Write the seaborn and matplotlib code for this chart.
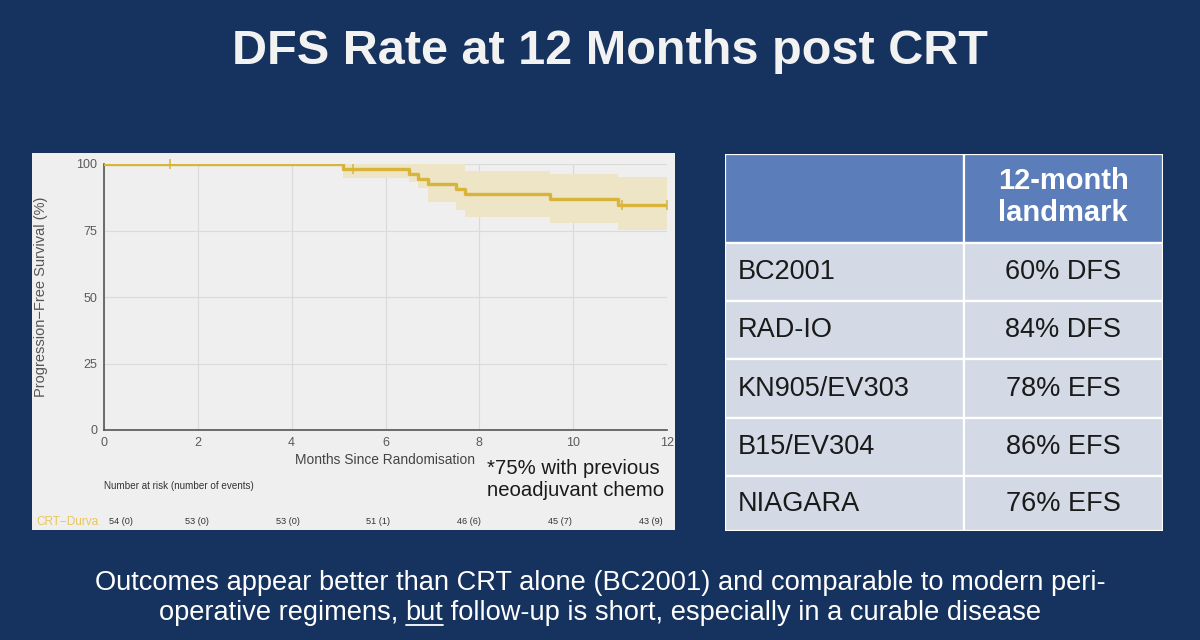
import matplotlib
matplotlib.use("Agg")
import matplotlib.pyplot as plt
import seaborn as sns
import numpy as np
import pandas as pd
from matplotlib.patches import Rectangle
from matplotlib.lines import Line2D

# ---------------- data ----------------
step_times = [0, 5.1, 6.5, 6.7, 6.9, 7.5, 7.7, 9.5, 10.95, 12]
survival   = [100, 98.1, 96.2, 94.3, 92.4, 90.5, 88.6, 86.7, 84.7, 84.7]
ci_lower   = [100, 94.7, 93.3, 91.0, 85.8, 82.7, 80.2, 78.0, 75.2, 75.2]
ci_upper   = [100, 100, 100, 100, 100, 100, 97.5, 96.2, 95.0, 95.0]
censor_times = [1.4, 5.3, 11.05, 12]
risk_times  = [0, 2, 4, 6, 8, 10, 12]
risk_labels = ["54 (0)", "53 (0)", "53 (0)", "51 (1)", "46 (6)", "45 (7)", "43 (9)"]
x_ticks = [0, 2, 4, 6, 8, 10, 12]
y_ticks = [0, 25, 50, 75, 100]

table_studies = ["BC2001", "RAD-IO", "KN905/EV303", "B15/EV304", "NIAGARA"]
table_values  = ["60% DFS", "84% DFS", "78% EFS", "86% EFS", "76% EFS"]
table_header  = "12-month\nlandmark"

title_text = "DFS Rate at 12 Months post CRT"
footer_line1 = "Outcomes appear better than CRT alone (BC2001) and comparable to modern peri-"
footer_line2 = ["operative regimens, ", "but", " follow-up is short, especially in a curable disease"]

# ---------------- style ----------------
sns.set_style("white")
plt.rcParams['font.family'] = ['Liberation Sans', 'DejaVu Sans']

NAVY = "#16335F"
GOLD = "#D8B43A"
BAND = "#EEE4C6"
PANEL = "#EFEFEF"

W, H = 1200, 640
fig = plt.figure(figsize=(12, 6.4), dpi=100, facecolor=NAVY)

def fx(px):
    return px / W

def fy(py):
    return 1 - py / H

# title
fig.text(fx(610), fy(52), title_text, color="#F2F2F2", fontsize=35, fontweight="bold",
         ha="center", va="center")

# chart panel background
fig.patches.append(Rectangle((fx(32), fy(530)), fx(675) - fx(32), fy(153) - fy(530),
                             transform=fig.transFigure, facecolor=PANEL, edgecolor="none", zorder=-1))

# ---------------- KM axes ----------------
ax = fig.add_axes([fx(104), fy(430), fx(667) - fx(104), fy(164) - fy(430)])
ax.set_facecolor(PANEL)

df = pd.DataFrame({"t": step_times, "s": survival, "lo": ci_lower, "hi": ci_upper})
ax.fill_between(df["t"], df["lo"], df["hi"], step="post", color=BAND, linewidth=0, zorder=1)
sns.lineplot(data=df, x="t", y="s", drawstyle="steps-post", color=GOLD, linewidth=2.4,
             estimator=None, sort=False, ax=ax, zorder=3)

cens_surv = [survival[np.searchsorted(step_times, c, side="right") - 1] for c in censor_times]
sns.scatterplot(x=censor_times, y=cens_surv, marker="|", s=60, color=GOLD, linewidth=1.1,
                ax=ax, zorder=4, clip_on=False)

ax.set_xlim(0, 12)
ax.set_ylim(0, 100)
ax.set_xticks(x_ticks)
ax.set_yticks(y_ticks)
ax.grid(True, color="#DADADA", linewidth=0.8)
for s in ["top", "right"]:
    ax.spines[s].set_visible(False)
for s in ["left", "bottom"]:
    ax.spines[s].set_color("#555555")
    ax.spines[s].set_linewidth(1.2)
ax.tick_params(axis="both", direction="out", length=4, width=1, color="#555555",
               labelcolor="#5A5A5A", labelsize=9, pad=1)
ax.set_xlabel("")
ax.set_ylabel("Progression\u2212Free Survival (%)", color="#555555", fontsize=10.5)
ax.yaxis.set_label_coords(-0.1, 0.5)

fig.text(fx(385), fy(460), "Months Since Randomisation", color="#444444", fontsize=9.9,
         ha="center", va="center")
fig.text(fx(487), fy(480), "*75% with previous\nneoadjuvant chemo", color="#1A1A1A",
         fontsize=14.6, ha="left", va="center", linespacing=1.2)
fig.text(fx(104), fy(486), "Number at risk (number of events)", color="#333333", fontsize=7.1,
         ha="left", va="center")
fig.text(fx(36), fy(522), "CRT\u2212Durva", color="#E6C65E", fontsize=8.5, ha="left", va="center")
for t, lab in zip(risk_times, risk_labels):
    xpix = max(109, 94 + t * 45.4)
    fig.text(fx(xpix), fy(522), lab, color="#333333", fontsize=6.6, ha="left", va="center")

# ---------------- table ----------------
tax = fig.add_axes([fx(725), fy(531), fx(1163) - fx(725), fy(154) - fy(531)])
tax.set_xlim(725, 1163)
tax.set_ylim(531, 154)
tax.axis("off")
row_edges = [154, 243, 301, 359, 418, 476, 531]
col_edges = [725, 964, 1163]
HEAD = "#5B7DBA"
BODY = "#D3DAE5"
for r in range(len(row_edges) - 1):
    for c in range(2):
        color = HEAD if r == 0 else BODY
        tax.add_patch(Rectangle((col_edges[c], row_edges[r]), col_edges[c + 1] - col_edges[c],
                                row_edges[r + 1] - row_edges[r], facecolor=color,
                                edgecolor="white", linewidth=1.6))
tax.text(1063, 197, table_header, color="white", fontsize=21, fontweight="bold",
         ha="center", va="center", linespacing=1.15)
for i, (st, val) in enumerate(zip(table_studies, table_values)):
    yc = (row_edges[i + 1] + row_edges[i + 2]) / 2
    tax.text(738, yc, st, color="#1A1A1A", fontsize=19.5, ha="left", va="center")
    tax.text(1063, yc, val, color="#1A1A1A", fontsize=19.5, ha="center", va="center")

# ---------------- footer ----------------
fig.text(fx(600), fy(583), footer_line1, color="white", fontsize=19.6, ha="center", va="center")
renderer = fig.canvas.get_renderer()
pieces = [fig.text(0, fy(613), p, color="white", fontsize=19.6, ha="left", va="center")
          for p in footer_line2]
widths = [p.get_window_extent(renderer).width for p in pieces]
x0 = 600 - sum(widths) / 2
for p, w in zip(pieces, widths):
    p.set_x(fx(x0))
    if p.get_text() == "but":
        fig.lines.append(Line2D([fx(x0), fx(x0 + w)], [fy(625), fy(625)], color="white",
                                linewidth=1.3, transform=fig.transFigure))
    x0 += w

fig.savefig("out.png", dpi=100, facecolor=NAVY)
